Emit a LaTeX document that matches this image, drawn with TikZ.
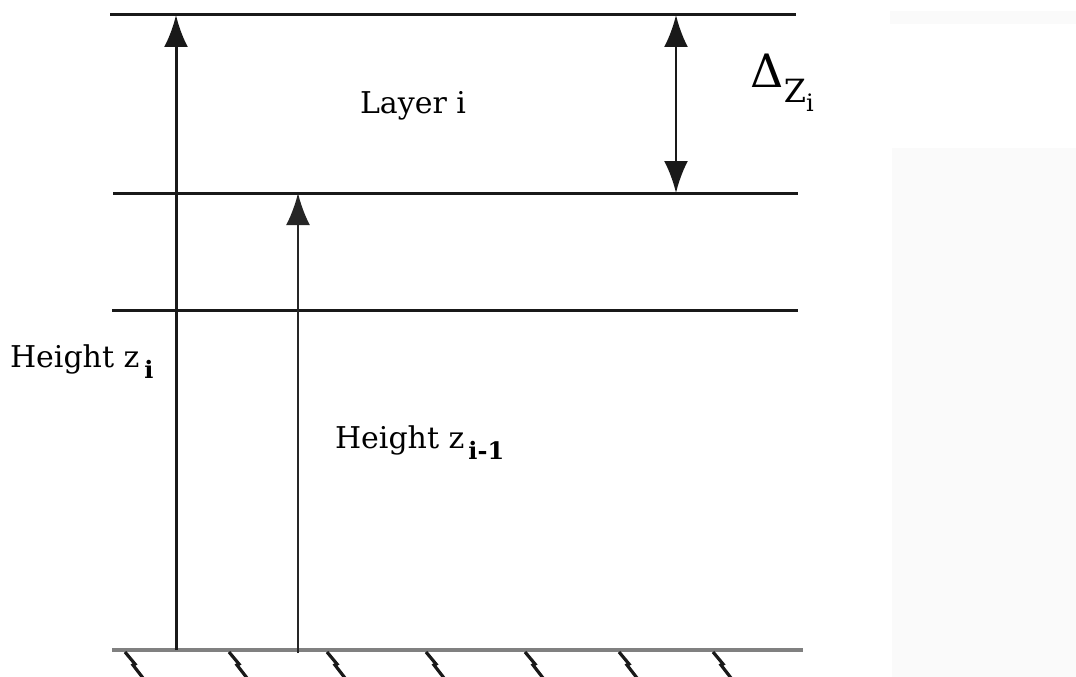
\documentclass[tikz,border=0pt]{standalone}
\usepackage{fontspec}
\setmainfont{DejaVu Serif}
\usetikzlibrary{arrows.meta}
\begin{document}
\begin{tikzpicture}[x=1pt,y=-1pt,
  levelline/.style={line width=3pt,black!90},
  groundline/.style={line width=4.5pt,black!50},
  hatchline/.style={line width=3.2pt,black!90},
  uparrow/.style={line width=3pt,black!90,-{Latex[length=32pt,width=24pt]}},
  dblarrow/.style={line width=2.6pt,black!90,{Latex[length=32pt,width=24pt]}-{Latex[length=32pt,width=24pt]}},
  lbl/.style={font=\fontsize{30}{34}\selectfont,inner sep=0pt,outer sep=0pt},
  subfont/.style={font=\fontsize{24}{28}\selectfont\bfseries}]
\useasboundingbox (0,0) rectangle (1076,677);
% faint background panels
\fill[black!2] (890,11) rectangle (1076,24);
\fill[black!2] (892,148) rectangle (1076,677);
% level coordinates
\coordinate (t1) at (110,15);  \coordinate (t2) at (796,15);
\coordinate (m1) at (113,193); \coordinate (m2) at (798,193);
\coordinate (b1) at (112,310); \coordinate (b2) at (798,310);
\coordinate (g1) at (112,650); \coordinate (g2) at (803,650);
\draw[levelline] (t1) -- (t2);
\draw[levelline] (m1) -- (m2);
\draw[levelline] (b1) -- (b2);
\draw[groundline] (g1) -- (g2);
% hatching under ground
\foreach \hx in {127,231,329,428,527,621,715}{
  \draw[hatchline] (\hx-2,652) -- (\hx+8,664) -- (\hx+6,665) -- (\hx+16,678);
}
% arrows
\coordinate (a1s) at (176,650); \coordinate (a1e) at (176,15);
\coordinate (a2s) at (298,653); \coordinate (a2e) at (298,193);
\coordinate (a3s) at (676,193); \coordinate (a3e) at (676,15);
\draw[uparrow] (a1s) -- (a1e);
\draw[uparrow,line width=2.5pt,black!85] (a2s) -- (a2e);
\draw[dblarrow] (a3s) -- (a3e);
% labels
\node[lbl,anchor=base west] (layer) at (360,113) {Layer i};
\node[lbl,anchor=base west] (hzi) at (10,367) {Height z\hspace{5pt}\raisebox{-11pt}{\fontsize{24}{28}\selectfont\bfseries i}};
\node[lbl,anchor=base west] (hzim) at (335,448) {Height z\hspace{4pt}\raisebox{-11pt}{\fontsize{24}{28}\selectfont\bfseries i-1}};
\node[inner sep=0pt,anchor=base west,font=\fontsize{46}{50}\selectfont] (delta) at (750,88) {Δ};
\node[inner sep=0pt,anchor=base west,font=\fontsize{32}{36}\selectfont] (dz) at (delta.base east) {\raisebox{-15pt}{Z}\raisebox{-24pt}{\fontsize{24}{28}\selectfont i}};
\end{tikzpicture}
\end{document}
